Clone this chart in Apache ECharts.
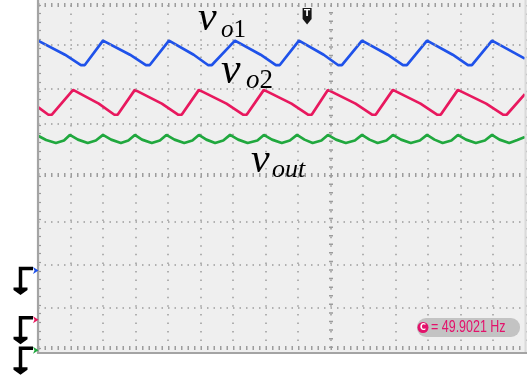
<!DOCTYPE html>
<html><head><meta charset="utf-8">
<script src="https://cdn.jsdelivr.net/npm/echarts@6/dist/echarts.min.js"></script>
<style>html,body{margin:0;padding:0;background:#fff}#c{width:527px;height:382px}</style>
</head><body><div id="c"></div>
<script>
// time axis in divisions (0..15), voltage axis in divisions (0..8)
const vo1 = [
 [0,7.17],[0.83,6.84],[1.32,6.60],[1.44,6.60],[2.00,7.17],
 [2.83,6.84],[3.32,6.60],[3.44,6.60],[4.03,7.17],
 [4.79,6.84],[5.23,6.60],[5.35,6.60],[6.06,7.17],
 [6.85,6.84],[7.32,6.60],[7.44,6.60],[8.03,7.17],
 [8.79,6.84],[9.23,6.60],[9.35,6.60],[9.97,7.17],
 [10.76,6.84],[11.23,6.60],[11.35,6.60],[11.97,7.17],
 [12.76,6.84],[13.23,6.60],[13.35,6.60],[13.97,7.17],
 [14.98,6.75]
];
const vo2 = [
 [0,5.62],[0.32,5.44],[0.42,5.44],[1.08,6.02],
 [1.87,5.70],[2.35,5.44],[2.45,5.44],[2.98,6.02],
 [3.81,5.70],[4.32,5.44],[4.42,5.44],[4.95,6.02],
 [5.80,5.70],[6.32,5.44],[6.42,5.44],[6.95,6.02],
 [7.80,5.70],[8.32,5.44],[8.42,5.44],[8.92,6.02],
 [9.77,5.70],[10.29,5.44],[10.39,5.44],[10.92,6.02],
 [11.77,5.70],[12.29,5.44],[12.39,5.44],[12.92,6.02],
 [13.79,5.70],[14.32,5.44],[14.42,5.44],[14.98,5.92]
];
const vout = [
 [0,4.95],[0.25,4.85],[0.55,4.78],[0.8,4.84],[0.98,4.97],
 [1.23,4.86],[1.53,4.78],[1.78,4.84],[2.00,4.97],
 [2.25,4.86],[2.55,4.78],[2.78,4.84],[2.98,4.97],
 [3.20,4.86],[3.50,4.78],[3.75,4.84],[3.95,4.97],
 [4.20,4.86],[4.50,4.78],[4.75,4.84],[4.95,4.97],
 [5.18,4.86],[5.45,4.78],[5.70,4.84],[5.91,4.97],
 [6.16,4.86],[6.45,4.78],[6.75,4.84],[6.95,4.97],
 [7.20,4.86],[7.50,4.78],[7.75,4.84],[7.97,4.97],
 [8.20,4.86],[8.45,4.78],[8.72,4.84],[8.92,4.97],
 [9.17,4.86],[9.47,4.78],[9.75,4.84],[9.97,4.97],
 [10.20,4.86],[10.45,4.78],[10.72,4.84],[10.92,4.97],
 [11.17,4.86],[11.47,4.78],[11.75,4.84],[11.97,4.97],
 [12.20,4.86],[12.45,4.78],[12.72,4.84],[12.92,4.97],
 [13.17,4.86],[13.47,4.78],[13.75,4.84],[13.97,4.97],
 [14.20,4.86],[14.50,4.78],[14.75,4.85],[14.98,4.92]
];
const hGridRows = [0.93, 1.94, 2.94, 5.22, 6.04, 7.07]; // dotted graticule rows
const rulerRows = [0, 4.03, 8];                         // rows with dense tick marks
const rulerCols = [9];                                   // column with dense tick marks
const triggerX = 8.28;
const channelZero = [1.81, 0.66, -0.05];
const channelColors = ['#1f52ea', '#e8185e', '#20a83e'];
const freqText = '= 49.9021 Hz';

const chart = echarts.init(document.getElementById('c'), null, {renderer:'canvas'});
const GRID = '#9c9c9c';
const marks = [];
hGridRows.forEach(v => marks.push({yAxis:v, lineStyle:{type:[1.5,5], width:1.5, color:GRID}}));
rulerRows.forEach(v => marks.push({yAxis:v, lineStyle:{type:[1.5,5], width:4, color:GRID}}));
rulerCols.forEach(v => marks.push({xAxis:v, lineStyle:{type:[1.5,7.08], width:4, color:GRID}}));

chart.setOption({
  animation:false,
  backgroundColor:'#efefef',
  grid:{left:38, top:5, right:1.5, bottom:34, containLabel:false},
  xAxis:{type:'value', min:0, max:15, interval:1,
    axisLine:{show:false}, axisTick:{show:false}, axisLabel:{show:false},
    splitLine:{show:true, lineStyle:{color:GRID, width:1.5, type:[1.5,7.08]}}},
  yAxis:{type:'value', min:0, max:8, interval:1,
    axisLine:{show:false}, axisLabel:{show:false},
    axisTick:{show:true, inside:true, length:3, lineStyle:{color:GRID, width:1.2}},
    minorTick:{show:true, splitNumber:5, length:3, lineStyle:{color:GRID, width:1.2}},
    splitLine:{show:false}},
  series:[
    {type:'line', data:[], z:1, silent:true,
      markLine:{silent:true, symbol:['none','none'], label:{show:false}, animation:false, data:marks}},
    {name:'vo1', type:'line', data:vo1, showSymbol:false, z:3, silent:true,
      lineStyle:{color:channelColors[0], width:2.7}},
    {name:'vo2', type:'line', data:vo2, showSymbol:false, z:3, silent:true,
      lineStyle:{color:channelColors[1], width:2.7}},
    {name:'vout', type:'line', data:vout, showSymbol:false, z:3, silent:true,
      lineStyle:{color:channelColors[2], width:2.7}}
  ]
});

const tx = chart.convertToPixel({xAxisIndex:0}, triggerX);
const serif = 'Liberation Serif';
const g = [
  {type:'rect', shape:{x:0,y:0,width:37,height:382}, style:{fill:'#fff'}, z:40, silent:true},
  {type:'rect', shape:{x:0,y:354,width:527,height:28}, style:{fill:'#fff'}, z:40, silent:true},
  {type:'line', shape:{x1:38,y1:0,x2:38,y2:354}, style:{stroke:'#a4a4a4', lineWidth:2.2}, z:41, silent:true},
  {type:'line', shape:{x1:37,y1:353,x2:527,y2:353}, style:{stroke:'#a4a4a4', lineWidth:2}, z:41, silent:true},
  {type:'line', shape:{x1:525.5,y1:0,x2:525.5,y2:352}, style:{stroke:'#dadada', lineWidth:2}, z:41, silent:true},
  {type:'polygon', shape:{points:[[tx-4.5,8],[tx+4.5,8],[tx+4.5,19],[tx,24.5],[tx-4.5,19]]}, style:{fill:'#161616'}, z:45, silent:true},
  {type:'text', x:tx, y:14, style:{text:'T', fill:'#fff', font:'bold 9px "DejaVu Sans"', align:'center', verticalAlign:'middle'}, z:46, silent:true},
  // labels
  {type:'text', x:198, y:19, style:{text:'v', font:'italic 42px "'+serif+'"', fill:'#000', verticalAlign:'middle'}, z:45, silent:true},
  {type:'text', x:221, y:30, style:{text:'{i|o}{r|1}', fill:'#000', verticalAlign:'middle',
     rich:{i:{fontFamily:serif, fontStyle:'italic', fontSize:25, fill:'#000'}, r:{fontFamily:serif, fontSize:25, fill:'#000'}}}, z:45, silent:true},
  {type:'text', x:221, y:71, style:{text:'v', font:'italic 44px "'+serif+'"', fill:'#000', verticalAlign:'middle'}, z:45, silent:true},
  {type:'text', x:246, y:81, style:{text:'{i|o}{r|2}', fill:'#000', verticalAlign:'middle',
     rich:{i:{fontFamily:serif, fontStyle:'italic', fontSize:27, fill:'#000'}, r:{fontFamily:serif, fontSize:27, fill:'#000'}}}, z:45, silent:true},
  {type:'text', x:251, y:161, style:{text:'v', font:'italic 42px "'+serif+'"', fill:'#000', verticalAlign:'middle'}, z:45, silent:true},
  {type:'text', x:272, y:170, style:{text:'out', font:'italic 26px "'+serif+'"', fill:'#000', verticalAlign:'middle'}, z:45, silent:true},
  // frequency readout
  {type:'rect', shape:{x:417,y:318,width:103,height:19,r:9}, style:{fill:'#c3c3c3'}, z:45, silent:true},
  {type:'circle', shape:{cx:423,cy:327.5,r:5.5}, style:{fill:'#e3126b'}, z:46, silent:true},
  {type:'text', x:423, y:328, style:{text:'C', fill:'#fff', font:'bold 8px "DejaVu Sans"', align:'center', verticalAlign:'middle'}, z:47, silent:true},
  {type:'text', x:431, y:328, scaleX:0.78, style:{text:freqText, fill:'#e3126b', font:'16px "Liberation Sans", sans-serif', verticalAlign:'middle'}, z:46, silent:true}
];
channelZero.forEach((v, i) => {
  const y0 = chart.convertToPixel({yAxisIndex:0}, v);
  g.push({type:'polyline', shape:{points:[[33,y0-2],[20.5,y0-2],[20.5,y0+18]]}, style:{stroke:'#000', lineWidth:3.5, fill:null}, z:45, silent:true});
  g.push({type:'polygon', shape:{points:[[13.5,y0+17],[27.5,y0+17],[27.5,y0+19.5],[20.5,y0+24.5],[13.5,y0+19.5]]}, style:{fill:'#000'}, z:45, silent:true});
  g.push({type:'polygon', shape:{points:[[33,y0-3.5],[38.5,y0],[33,y0+3.5],[34.5,y0]]}, style:{fill:channelColors[i]}, z:46, silent:true});
});
chart.setOption({graphic:g});
</script></body></html>
